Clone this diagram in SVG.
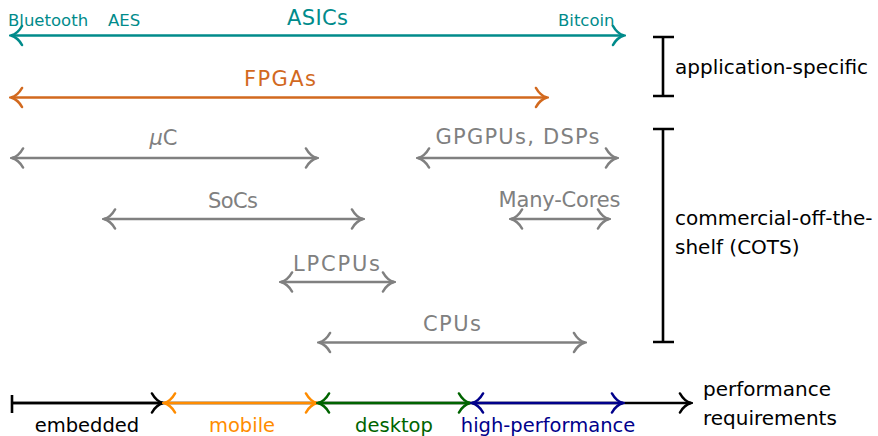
<svg xmlns="http://www.w3.org/2000/svg" width="878" height="436" viewBox="0 0 878 436">
<style>
text{font-family:"DejaVu Sans","Liberation Sans",sans-serif}
.ln{fill:none;stroke-width:2.6}
.teal{stroke:#008B8B}.tealt{fill:#008B8B}
.fpga{stroke:#D2691E}.fpgat{fill:#D2691E}
.gray{stroke:#808080}.grayt{fill:#808080}
.blk{stroke:#000}.blkt{fill:#000}
.org{stroke:#FF8C00}.orgt{fill:#FF8C00}
.grn{stroke:#006400}.grnt{fill:#006400}
.blu{stroke:#00008B}.blut{fill:#00008B}
.lab{font-size:21px;text-anchor:middle}
.sm{font-size:16.5px}
.ax{font-size:19.5px;text-anchor:middle}
.side{font-size:20px}
</style>
<defs>
<marker id="aTeal" markerUnits="userSpaceOnUse" viewBox="-14 -12 16 24" markerWidth="16" markerHeight="24" refX="0" refY="0" orient="auto-start-reverse"><path d="M-11,-9.5 C-8,-4 -3.5,-1 0,0 C-3.5,1 -8,4 -11,9.5" fill="none" stroke="#008B8B" stroke-width="2.6" stroke-linecap="round"/></marker>
<marker id="aFpga" markerUnits="userSpaceOnUse" viewBox="-14 -12 16 24" markerWidth="16" markerHeight="24" refX="0" refY="0" orient="auto-start-reverse"><path d="M-11,-9.5 C-8,-4 -3.5,-1 0,0 C-3.5,1 -8,4 -11,9.5" fill="none" stroke="#D2691E" stroke-width="2.6" stroke-linecap="round"/></marker>
<marker id="aGray" markerUnits="userSpaceOnUse" viewBox="-14 -12 16 24" markerWidth="16" markerHeight="24" refX="0" refY="0" orient="auto-start-reverse"><path d="M-11,-9.5 C-8,-4 -3.5,-1 0,0 C-3.5,1 -8,4 -11,9.5" fill="none" stroke="#808080" stroke-width="2.6" stroke-linecap="round"/></marker>
<marker id="aBlk" markerUnits="userSpaceOnUse" viewBox="-14 -12 16 24" markerWidth="16" markerHeight="24" refX="0" refY="0" orient="auto-start-reverse"><path d="M-11,-9.5 C-8,-4 -3.5,-1 0,0 C-3.5,1 -8,4 -11,9.5" fill="none" stroke="#000" stroke-width="2.6" stroke-linecap="round"/></marker>
<marker id="aOrg" markerUnits="userSpaceOnUse" viewBox="-14 -12 16 24" markerWidth="16" markerHeight="24" refX="0" refY="0" orient="auto-start-reverse"><path d="M-11,-9.5 C-8,-4 -3.5,-1 0,0 C-3.5,1 -8,4 -11,9.5" fill="none" stroke="#FF8C00" stroke-width="2.6" stroke-linecap="round"/></marker>
<marker id="aGrn" markerUnits="userSpaceOnUse" viewBox="-14 -12 16 24" markerWidth="16" markerHeight="24" refX="0" refY="0" orient="auto-start-reverse"><path d="M-11,-9.5 C-8,-4 -3.5,-1 0,0 C-3.5,1 -8,4 -11,9.5" fill="none" stroke="#006400" stroke-width="2.6" stroke-linecap="round"/></marker>
<marker id="aBlu" markerUnits="userSpaceOnUse" viewBox="-14 -12 16 24" markerWidth="16" markerHeight="24" refX="0" refY="0" orient="auto-start-reverse"><path d="M-11,-9.5 C-8,-4 -3.5,-1 0,0 C-3.5,1 -8,4 -11,9.5" fill="none" stroke="#00008B" stroke-width="2.6" stroke-linecap="round"/></marker>
</defs>

<g id="connectors">
<line class="ln teal" x1="11" y1="35.5" x2="624" y2="35.5" marker-start="url(#aTeal)" marker-end="url(#aTeal)"/>
<line class="ln fpga" x1="11" y1="97.5" x2="547" y2="97.5" marker-start="url(#aFpga)" marker-end="url(#aFpga)"/>
<line class="ln gray" x1="12" y1="158" x2="317" y2="158" marker-start="url(#aGray)" marker-end="url(#aGray)"/>
<line class="ln gray" x1="418" y1="158" x2="617" y2="158" marker-start="url(#aGray)" marker-end="url(#aGray)"/>
<line class="ln gray" x1="104" y1="219" x2="363" y2="219" marker-start="url(#aGray)" marker-end="url(#aGray)"/>
<line class="ln gray" x1="511" y1="219" x2="609" y2="219" marker-start="url(#aGray)" marker-end="url(#aGray)"/>
<line class="ln gray" x1="281" y1="282" x2="394" y2="282" marker-start="url(#aGray)" marker-end="url(#aGray)"/>
<line class="ln gray" x1="319" y1="342.5" x2="585" y2="342.5" marker-start="url(#aGray)" marker-end="url(#aGray)"/>
<path class="ln blk" d="M663,37V96M653,37H674M653,96H674"/>
<path class="ln blk" d="M663,129V342M653,129H674M653,342H674"/>
<line class="ln blk" x1="12" y1="403" x2="691" y2="403" marker-end="url(#aBlk)"/>
<line class="ln blk" x1="12" y1="395" x2="12" y2="413"/>
<line class="ln blk" x1="12" y1="403" x2="163" y2="403" marker-end="url(#aBlk)"/>
<line class="ln org" x1="164" y1="403" x2="317" y2="403" marker-start="url(#aOrg)" marker-end="url(#aOrg)"/>
<line class="ln grn" x1="318" y1="403" x2="470" y2="403" marker-start="url(#aGrn)" marker-end="url(#aGrn)"/>
<line class="ln blu" x1="472" y1="403" x2="623" y2="403" marker-start="url(#aBlu)" marker-end="url(#aBlu)"/>
</g>

<g id="asics">
<text class="lab tealt" x="317.5" y="25" font-size="22" textLength="61">ASICs</text>
<text class="sm tealt" x="8" y="26">Bluetooth</text>
<text class="sm tealt" x="108" y="26">AES</text>
<text class="sm tealt" x="558" y="26">Bitcoin</text>
</g>
<g id="fpgas"><text class="lab fpgat" x="280" y="86" textLength="72">FPGAs</text></g>
<g id="uc"><text class="lab grayt" x="163.5" y="145"><tspan font-style="italic">μ</tspan>C</text></g>
<g id="gpgpus"><text class="lab grayt" x="517.5" y="144" textLength="164">GPGPUs, DSPs</text></g>
<g id="socs"><text class="lab grayt" x="233" y="208" textLength="50">SoCs</text></g>
<g id="manycores"><text class="lab grayt" x="559.5" y="207" font-size="20" textLength="122">Many-Cores</text></g>
<g id="lpcpus"><text class="lab grayt" x="336.5" y="271" textLength="87">LPCPUs</text></g>
<g id="cpus"><text class="lab grayt" x="452" y="331" textLength="58">CPUs</text></g>

<g id="app-specific"><text class="side blkt" x="675" y="74">application-specific</text></g>
<g id="cots"><text class="side blkt" x="675" y="225">commercial-off-the-</text><text class="side blkt" x="675" y="254">shelf (COTS)</text></g>

<g id="embedded"><text class="ax blkt" x="87" y="432">embedded</text></g>
<g id="mobile"><text class="ax orgt" x="242" y="432">mobile</text></g>
<g id="desktop"><text class="ax grnt" x="394" y="432">desktop</text></g>
<g id="high-performance"><text class="ax blut" x="548" y="432">high-performance</text></g>
<g id="perf-req"><text class="side blkt" x="703" y="396">performance</text><text class="side blkt" x="703" y="425">requirements</text></g>
</svg>
